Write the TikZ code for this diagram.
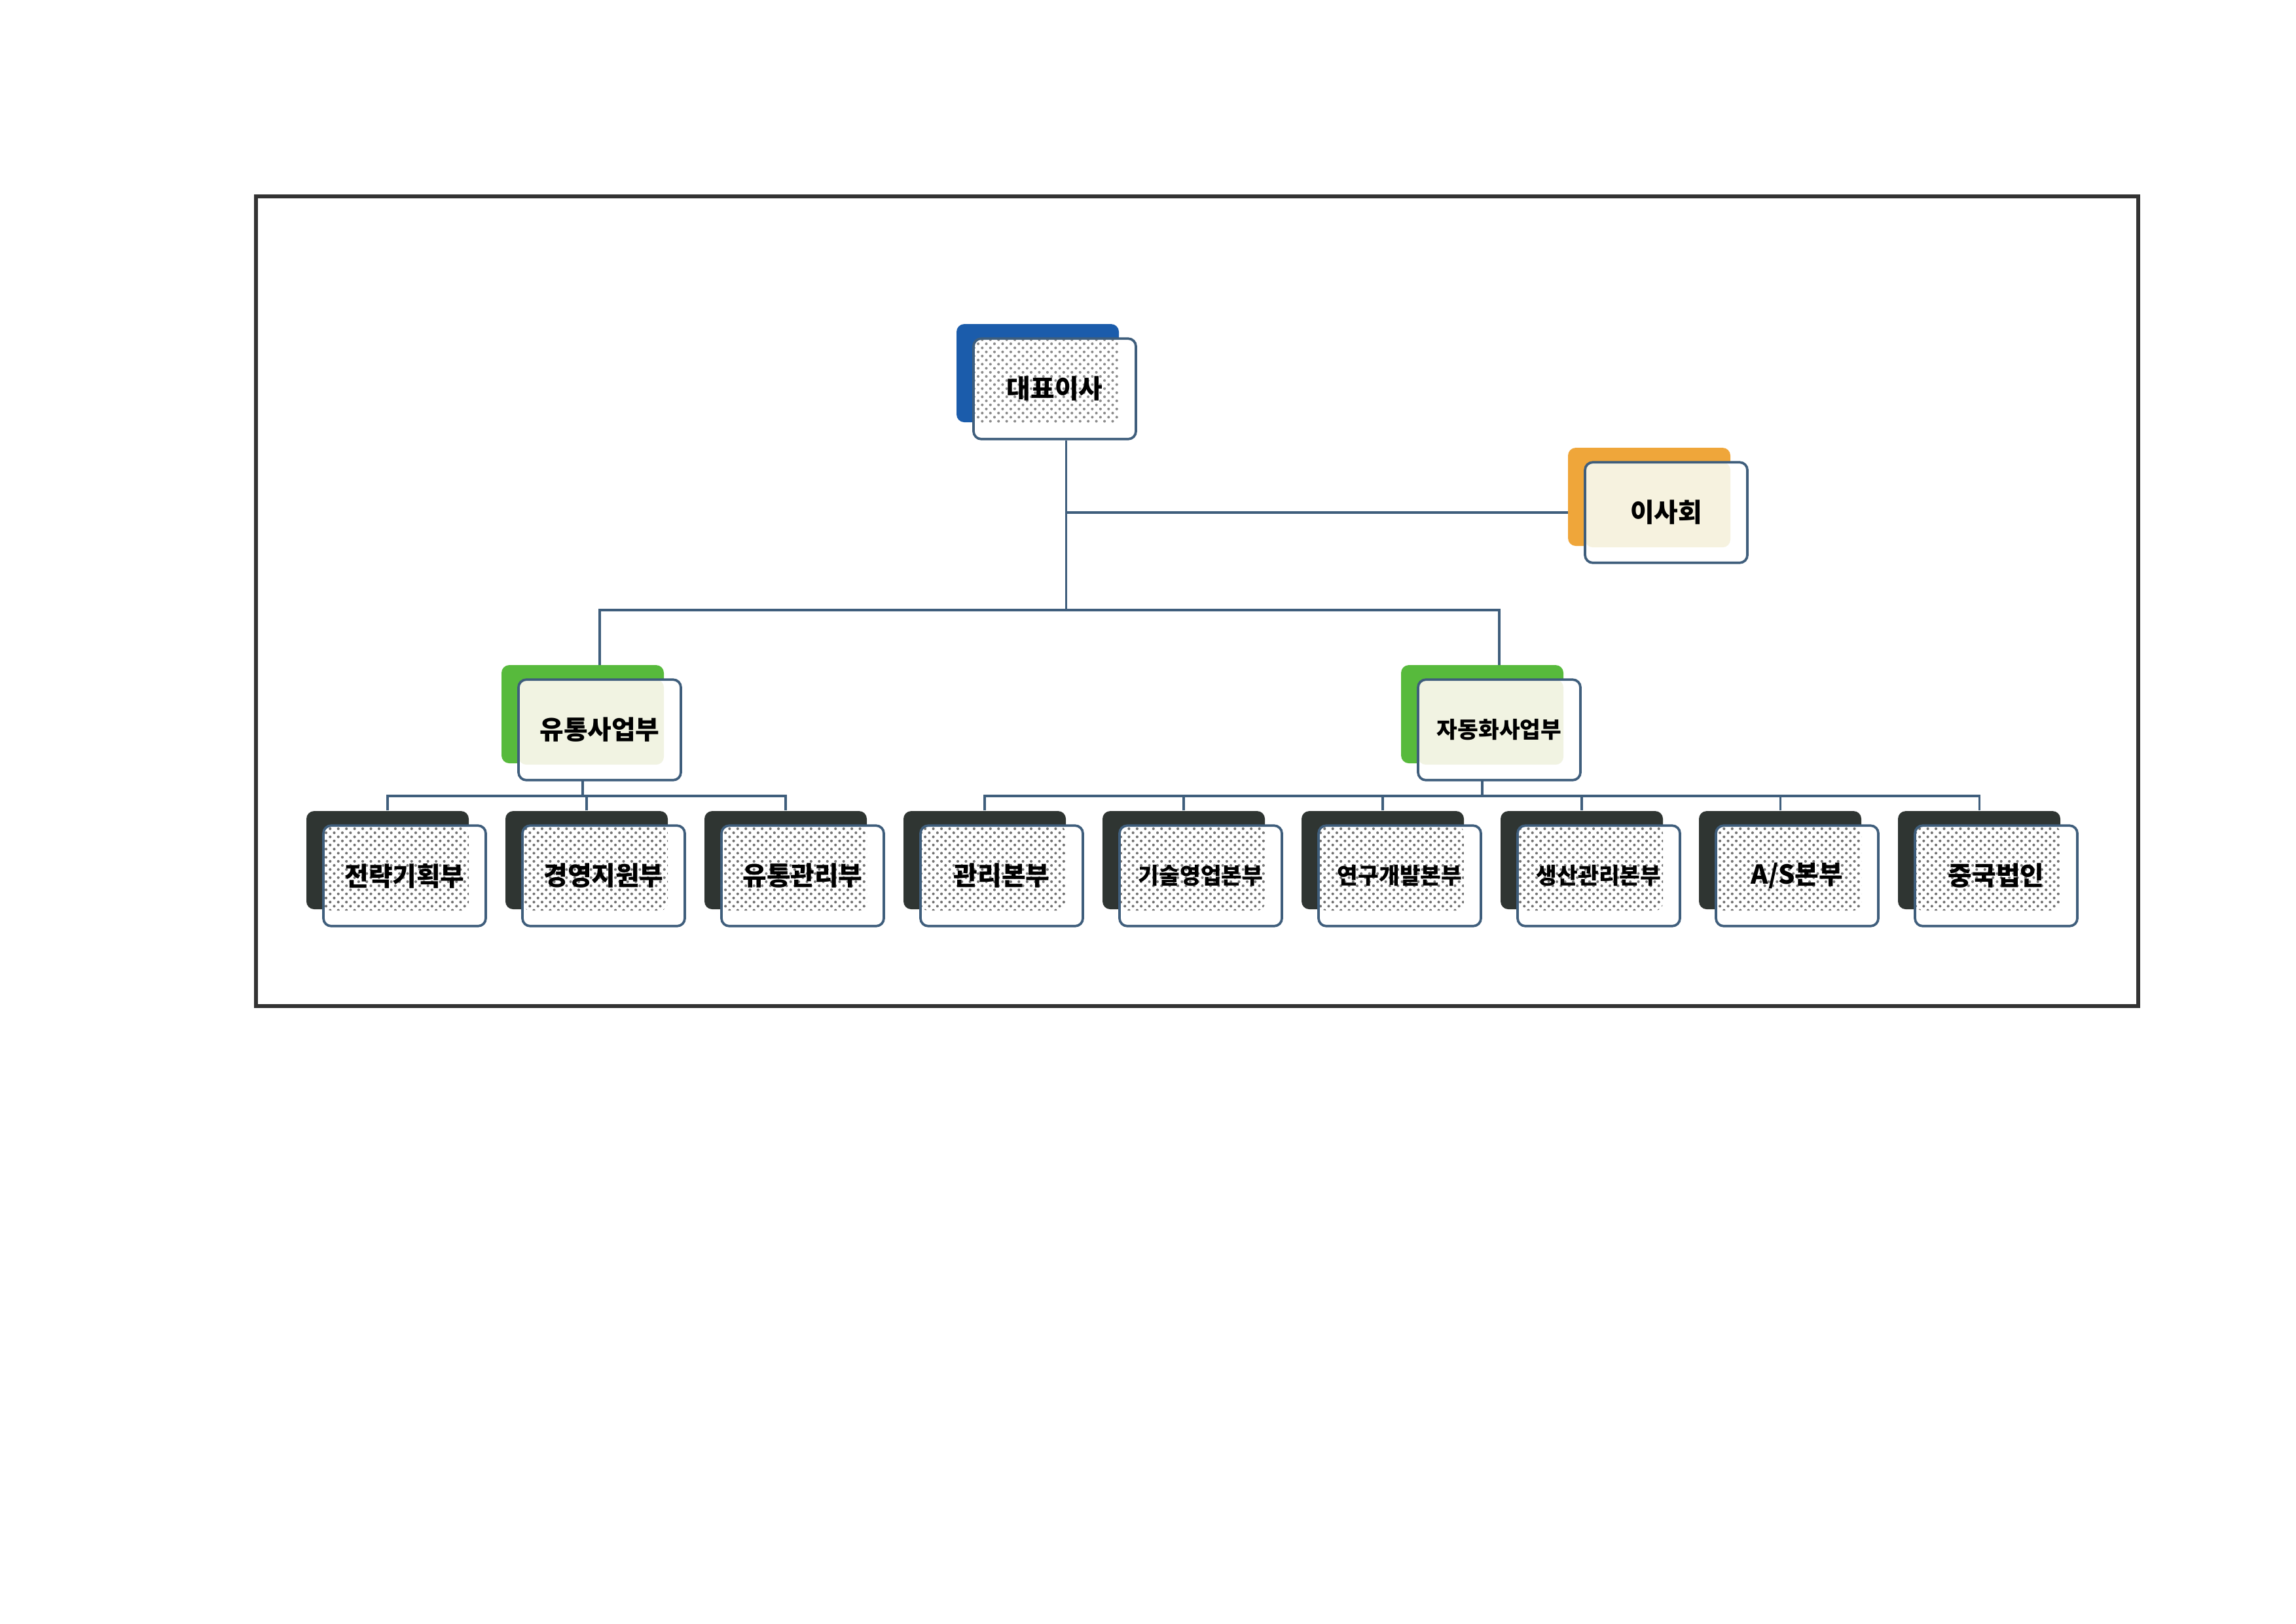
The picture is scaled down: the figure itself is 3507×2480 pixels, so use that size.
\documentclass[tikz,border=0pt]{standalone}
\usepackage{fontspec}
\newfontfamily\krfont{Noto Sans CJK KR}
\usepackage{xcolor}
\usepackage{tikz}
\usetikzlibrary{backgrounds,patterns}

\definecolor{linkblue}{HTML}{3F5E7C}
\definecolor{ceoblue}{HTML}{1B5CAB}
\definecolor{boardorange}{HTML}{EFA63A}
\definecolor{divgreen}{HTML}{57BA3C}
\definecolor{deptdark}{HTML}{2F3532}
\definecolor{greentint}{HTML}{F1F3E2}
\definecolor{orangetint}{HTML}{F6F2DF}

\tikzset{
  backbox/.style={rounded corners=1mm,minimum width=2.1cm,minimum height=1.27cm,inner sep=0pt},
  frontbox/.style={rounded corners=1mm,draw=linkblue,line width=.9pt,fill=white,
    minimum width=2.1cm,minimum height=1.3cm,inner sep=0pt,
    font=\krfont\bfseries\fontsize{9.6}{11}\selectfont,
    path picture={\fill[#1] (path picture bounding box.north west)
      rectangle ([xshift=-2.2mm,yshift=2.0mm]path picture bounding box.south east);}},
  link/.style={draw=linkblue,line width=.75pt},
  halftone/.style={pattern=crosshatch dots,pattern color=black!#1},
}
% name, centre, back colour, stipple, text
\newcommand\orgunit[5]{%
  \node[backbox,fill=#3,xshift=-2.2mm,yshift=2.03mm] (#1-bk) at (#2) {};
  \node[frontbox={#4}] (#1) at (#2) {#5};
}
\newcommand\narrowlabel{\fontsize{8.3}{10}\selectfont}

\begin{document}
\begin{tikzpicture}[x=0.0084688cm,y=-0.0084688cm]
 \useasboundingbox (0,0) rectangle (3507,2480);
 \draw[line width=1.3pt,black!80] (391,300) rectangle (3266,1537);

 \coordinate (jct) at (0,932);
 \coordinate (bus) at (0,1216);

 \orgunit{ceo}{1611,594}{ceoblue}{halftone=45}{대표이사}
 \orgunit{board}{2545,783}{boardorange}{orangetint}{이사회}
 \orgunit{dist}{916,1115}{divgreen}{greentint}{유통사업부}
 \orgunit{auto}{2290,1115}{divgreen}{greentint}{\narrowlabel 자동화사업부}

 \orgunit{plan}{618,1338}{deptdark}{halftone=55}{전략기획부}
 \orgunit{mgmt}{922,1338}{deptdark}{halftone=55}{경영지원부}
 \orgunit{logi}{1226,1338}{deptdark}{halftone=55}{유통관리부}
 \orgunit{admin}{1530,1338}{deptdark}{halftone=55}{관리본부}
 \orgunit{sales}{1834,1338}{deptdark}{halftone=55}{\narrowlabel 기술영업본부}
 \orgunit{rnd}{2138,1338}{deptdark}{halftone=55}{\narrowlabel 연구개발본부}
 \orgunit{prod}{2442,1338}{deptdark}{halftone=55}{\narrowlabel 생산관리본부}
 \orgunit{service}{2745,1338}{deptdark}{halftone=55}{A/S본부}
 \orgunit{china}{3049,1338}{deptdark}{halftone=55}{중국법인}

 \begin{scope}[on background layer]
  \draw[link] ([xshift=1.5mm]ceo.south) -- ([xshift=1.5mm]ceo.south |- jct);
  \draw[link] ([xshift=1.5mm]ceo.south |- board.west) -- (board.west);
  \draw[link] (dist.north) -- (dist.north |- jct) -- (auto.north |- jct) -- (auto.north);
  \draw[link] (dist-bk.south) -- (dist-bk.south |- bus);
  \draw[link] (plan-bk.north) -- (plan-bk.north |- bus) -- (logi-bk.north |- bus) -- (logi-bk.north);
  \draw[link] (mgmt-bk.north) -- (mgmt-bk.north |- bus);
  \draw[link] (auto-bk.south) -- (auto-bk.south |- bus);
  \draw[link] (admin-bk.north) -- (admin-bk.north |- bus) -- (china-bk.north |- bus) -- (china-bk.north);
  \foreach \n in {sales,rnd,prod,service}
   \draw[link] (\n-bk.north) -- (\n-bk.north |- bus);
 \end{scope}
\end{tikzpicture}
\end{document}
